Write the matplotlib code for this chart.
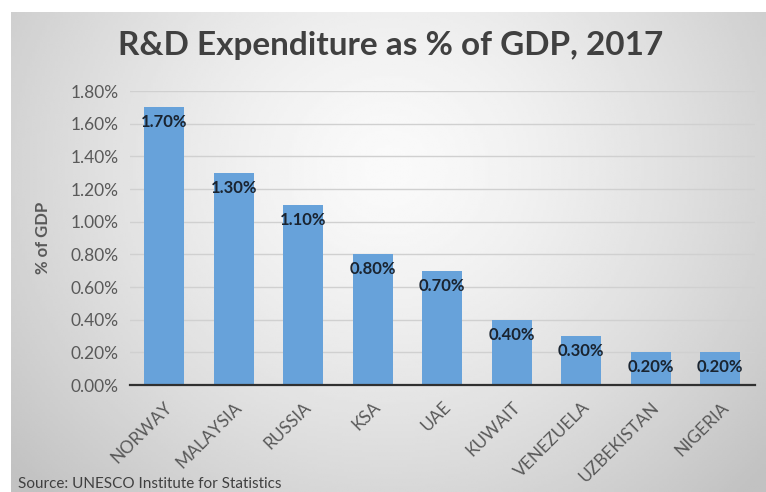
import numpy as np
import matplotlib
matplotlib.use("Agg")
import matplotlib.pyplot as plt
from matplotlib.ticker import FuncFormatter

# data
countries = ["NORWAY", "MALAYSIA", "RUSSIA", "KSA", "UAE", "KUWAIT",
             "VENEZUELA", "UZBEKISTAN", "NIGERIA"]
rd_share = [0.017, 0.013, 0.011, 0.008, 0.007, 0.004, 0.003, 0.002, 0.002]
y_ticks = [0.0, 0.002, 0.004, 0.006, 0.008, 0.010, 0.012, 0.014, 0.016, 0.018]

plt.rcParams["font.family"] = ["Lato", "DejaVu Sans"]

fig = plt.figure(figsize=(7.66, 4.92), dpi=100)
fig.patch.set_facecolor("white")

# gray radial-ish background panel
bg = fig.add_axes([11 / 766, 0, 1 - 11 / 766, 1 - 12 / 492])
gx, gy = np.meshgrid(np.linspace(-1, 1, 300), np.linspace(-1, 1, 200))
dist = np.sqrt(((gx - 0.0) / 1.1) ** 2 + ((gy + 0.35) / 1.6) ** 2)
shade = 0.98 - 0.17 * np.clip(dist, 0, 1.2) ** 1.4
bg.imshow(shade, cmap="gray", vmin=0, vmax=1, aspect="auto",
          extent=[0, 1, 0, 1], origin="upper")
bg.axis("off")

ax = fig.add_axes([129.5 / 766, 1 - 385 / 492, (755 - 129.5) / 766, (385 - 91) / 492])
ax.set_facecolor("none")

x = np.arange(len(countries))
bars = ax.bar(x, rd_share, width=0.58, color="#67a2da", zorder=3)

for xi, v in zip(x, rd_share):
    ax.annotate(f"{v * 100:.2f}%", (xi, v), xytext=(0, -5), textcoords="offset points",
                ha="center", va="top", fontsize=12, fontweight="bold",
                color="#1a2430", zorder=4)

ax.set_ylim(0, 0.018)
ax.set_xlim(-0.5, len(countries) - 0.5)
ax.set_yticks(y_ticks)
ax.yaxis.set_major_formatter(FuncFormatter(lambda v, p: f"{v * 100:.2f}%"))
ax.grid(axis="y", color="#d0d0d0", linewidth=1, zorder=0)
ax.set_xticks(x)
ax.set_xticklabels(countries, rotation=45, ha="right", rotation_mode="anchor")

ax.tick_params(axis="both", length=0, labelsize=12.5, colors="#595959")
ax.tick_params(axis="x", pad=10)
ax.tick_params(axis="y", pad=8)
for s in ["top", "right", "left"]:
    ax.spines[s].set_visible(False)
ax.spines["bottom"].set_color("#303030")
ax.spines["bottom"].set_linewidth(1.6)
ax.spines["bottom"].set_zorder(5)

ax.set_ylabel("% of GDP", fontsize=12, fontweight="bold", color="#595959", labelpad=14)

fig.text(391 / 766, 1 - 45 / 492, "R&D Expenditure as % of GDP, 2017",
         ha="center", va="center", fontsize=24, fontweight="bold", color="#404040")
fig.text(18 / 766, 8 / 492, "Source: UNESCO Institute for Statistics",
         ha="left", va="center", fontsize=11, color="#404040")

fig.savefig("out.png", dpi=100)
